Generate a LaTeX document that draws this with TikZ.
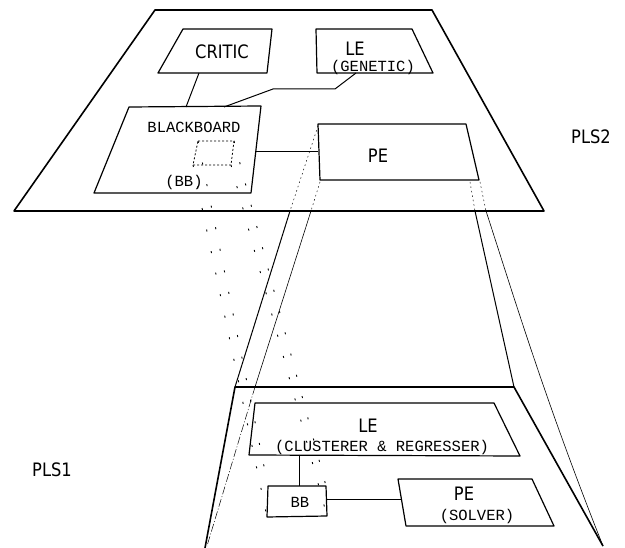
\documentclass[tikz,border=0pt]{standalone}
\usepackage{fontspec}
\newfontfamily\lblfont[FakeStretch=0.88]{DejaVu Sans}
\newfontfamily\typfont{Liberation Mono}

\begin{document}
\begin{tikzpicture}[x=1pt,y=-1pt,
  plane/.style={line width=1.6pt,line join=round},
  box/.style={line width=1.2pt,line join=round},
  link/.style={line width=1pt},
  proj/.style={line width=0.5pt,dash pattern=on 1.5pt off 3pt},
  sparse/.style={line width=0.9pt,dash pattern=on 2pt off 20pt},
  big/.style={font=\lblfont\fontsize{18.5}{20}\selectfont},
  small/.style={font=\typfont\fontsize{15.5}{17}\selectfont}]
\useasboundingbox (0,0) rectangle (625,548);

% PLS2
\coordinate (ta) at (155,10);
\coordinate (tb) at (432,10);
\coordinate (tc) at (544,211);
\coordinate (td) at (14,211);
\draw[plane] (ta)--(tb)--(tc)--(td)--cycle;

\draw[box] (183,29)--(272,29)--(267,73)--(158,73)--cycle;
\node[big] (critic) at (222,52) {CRITIC};

\draw[box] (316,29)--(412,29)--(433,73)--(317,73)--cycle;
\node[big] (le2) at (355,49) {LE};
\node[small] (genetic) at (373,67) {(GENETIC)};

\draw[box] (129,107)--(261,106)--(251,193)--(94,193)--cycle;
\node[small] (blackboard) at (194,127) {BLACKBOARD};
\node[small] (bbtag) at (184,182) {(BB)};

\coordinate (ua) at (198,141);
\coordinate (ub) at (234,141);
\coordinate (uc) at (231,165);
\coordinate (ud) at (193,165);
\draw[line width=0.8pt,dash pattern=on 2pt off 2pt] (ua)--(ub)--(uc)--(ud)--cycle;

\draw[box] (318,124)--(466,124)--(479,180)--(320,180)--cycle;
\node[big] (pe2) at (378,156) {PE};

\node[big] (pls2) at (591,137) {PLS2};

\coordinate (c1) at (199,73);
\coordinate (c2) at (186,107);
\coordinate (g1) at (356,73);
\coordinate (g2) at (224,107);
\coordinate (b1) at (256,152);
\coordinate (p1) at (318,152);
\draw[link] (c1) -- (c2);
\draw[link] (g1) -- (335,89) -- (273,89) -- (g2);
\draw[link] (b1) -- (p1);

% PLS1
\coordinate (sa) at (235,387);
\coordinate (sb) at (514,387);
\coordinate (sc) at (603,546);
\coordinate (sd) at (205,548);
\draw[plane] (sd)--(sa)--(sb)--(sc);

\draw[box] (255,403)--(494,403)--(520,456)--(249,455)--cycle;
\node[big] (le1) at (368,426) {LE};
\node[small] (clust) at (382,447) {(CLUSTERER \& REGRESSER)};

\coordinate (la) at (268,486);
\coordinate (lb) at (326,486);
\coordinate (lc) at (327,516);
\coordinate (ld) at (267,517);
\draw[box] (la)--(lb)--(lc)--(ld)--cycle;
\node[small] (bb) at (300,502) {BB};

\draw[box] (398,479)--(532,479)--(554,526)--(406,526)--cycle;
\node[big] (pe1) at (464,494) {PE};
\node[small] (solver) at (477,516) {(SOLVER)};

\node[big] (pls1) at (52,470) {PLS1};

\draw[link] (299,455) -- (299,486);
\draw[link] (327,500) -- (401,500);

% projections
\coordinate (e1) at (290,211);
\coordinate (e2) at (311,211);
\coordinate (e3) at (475,211);
\coordinate (e4) at (486,211);
\draw[proj] (318,126) -- (e1);
\draw[proj] (320,182) -- (e2);
\draw[proj] (470,182) -- (e3);
\draw[proj] (480,182) -- (e4);
\draw[line width=1pt] (e1) -- (sa);
\draw[line width=0.6pt] (e2) -- (255,387);
\draw[line width=0.5pt,dash pattern=on 8pt off 2pt on 1pt off 2pt] (255,387) -- (207,546);
\draw[line width=1pt] (e3) -- (sb);
\draw[line width=0.6pt] (e4) .. controls (515,300) and (545,400) .. (sc);

\foreach \i in {a,b,c,d}
  \draw[sparse] (u\i) -- (l\i);
\end{tikzpicture}
\end{document}
